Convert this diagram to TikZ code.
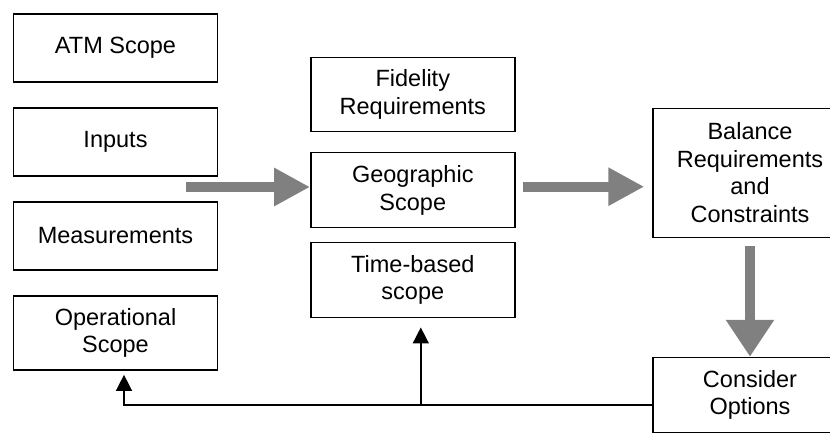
\documentclass[tikz,border=0pt]{standalone}
\usepackage{fontspec}
\setmainfont{Liberation Sans}
\usetikzlibrary{arrows.meta}

\begin{document}
\begin{tikzpicture}[x = 1pt, y = -1pt, font = \fontsize{23.5}{27.5}\selectfont,
	box/.style = {draw, line width = 1.5pt, align = center, inner sep = 0pt, minimum width = 204pt, minimum height = 68pt},
	fat/.style = {draw = gray, line width = 10pt, -{Triangle[width = 36pt, length = 36pt]}},
	thin/.style = {line width = 1.5pt, -{Triangle[width = 16pt, length = 16pt]}}]

	\useasboundingbox (0, 0) rectangle (830, 432);
	\clip (0, 0) rectangle (830, 432);

	% left column
	\node [box] (atm) at (115.5, 48.2) {ATM Scope};
	\node [box] (inputs) at (115.5, 141.8) {Inputs};
	\node [box] (meas) at (115.5, 235.8) {Measurements};
	\node [box, minimum height = 74pt] (oper) at (115.5, 332.8) {Operational\\Scope};

	% middle column
	\node [box, minimum height = 74pt] (fid) at (412.8, 94.5) {Fidelity\\Requirements};
	\node [box, minimum height = 75pt] (geo) at (412.8, 190.2) {Geographic\\Scope};
	\node [box, minimum height = 75pt] (time) at (412.8, 279.8) {Time-based\\scope};

	% right column
	\node [box, minimum width = 194pt, minimum height = 129pt] (bal) at (750, 172.8) {Balance\\Requirements\\and\\Constraints};
	\node [box, minimum width = 194pt, minimum height = 75pt] (opt) at (750, 395) {Consider\\Options};

	\coordinate (src) at (186, 187);
	\draw [fat] (src) -- (src -| geo.west);

	\coordinate (g2b) at ([yshift = 3.5pt] geo.east);
	\draw [fat, shorten <= 7pt, shorten >= 8pt] (g2b) -- (g2b -| bal.west);

	\draw [fat, -{Triangle[width = 46pt, length = 37pt]}, shorten <= 7.7pt] (bal.south) -- (opt.north);

	% feedback
	\coordinate (fb) at ([yshift = -10pt] opt.west);
	\coordinate (tb) at ([xshift = 8pt, yshift = -9.4pt] time.south);
	\draw [thin] (fb) -| ([xshift = 8.5pt, yshift = -4.3pt] oper.south);
	\draw [thin] (tb |- fb) -- (tb);

\end{tikzpicture}
\end{document}
